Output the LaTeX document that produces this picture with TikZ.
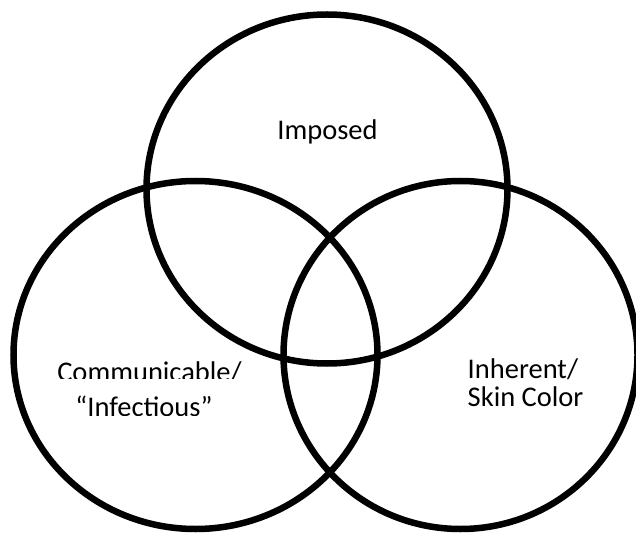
\documentclass[tikz,border=0pt]{standalone}
\usepackage{fontspec}
\setmainfont{Carlito}
\begin{document}
\begin{tikzpicture}[x=1pt,y=-1pt,
  ring/.style={line width=6.5pt, draw=black},
  lbl/.style={inner sep=0pt, font=\fontsize{28.5}{30}\selectfont, anchor=base}]
\useasboundingbox (0,0) rectangle (636,534);
\fill[white] (0,0) rectangle (636,534);
% circles
\draw[ring] (327,189) ellipse [x radius=180.5pt, y radius=174.5pt];
\draw[ring] (195.5,355) ellipse [x radius=182pt, y radius=174pt];
\draw[ring] (460.5,355) ellipse [x radius=177pt, y radius=174pt];
% labels
\node[lbl] (imposed) at (327.5,140) {Imposed};
\begin{scope}
  \clip (0,0) rectangle (636,378);
  \node[lbl] (comm) at (149.5,381) {Communicable/};
\end{scope}
\begin{scope}
  \clip (0,380) rectangle (636,415);
  \node[lbl] (infect) at (144,416) {“Infectious”};
\end{scope}
\node[lbl, anchor=base west] (inher) at (467.5,378) {Inherent/};
\node[lbl, anchor=base west] (skin) at (467.5,406) {Skin Color};
\end{tikzpicture}
\end{document}
